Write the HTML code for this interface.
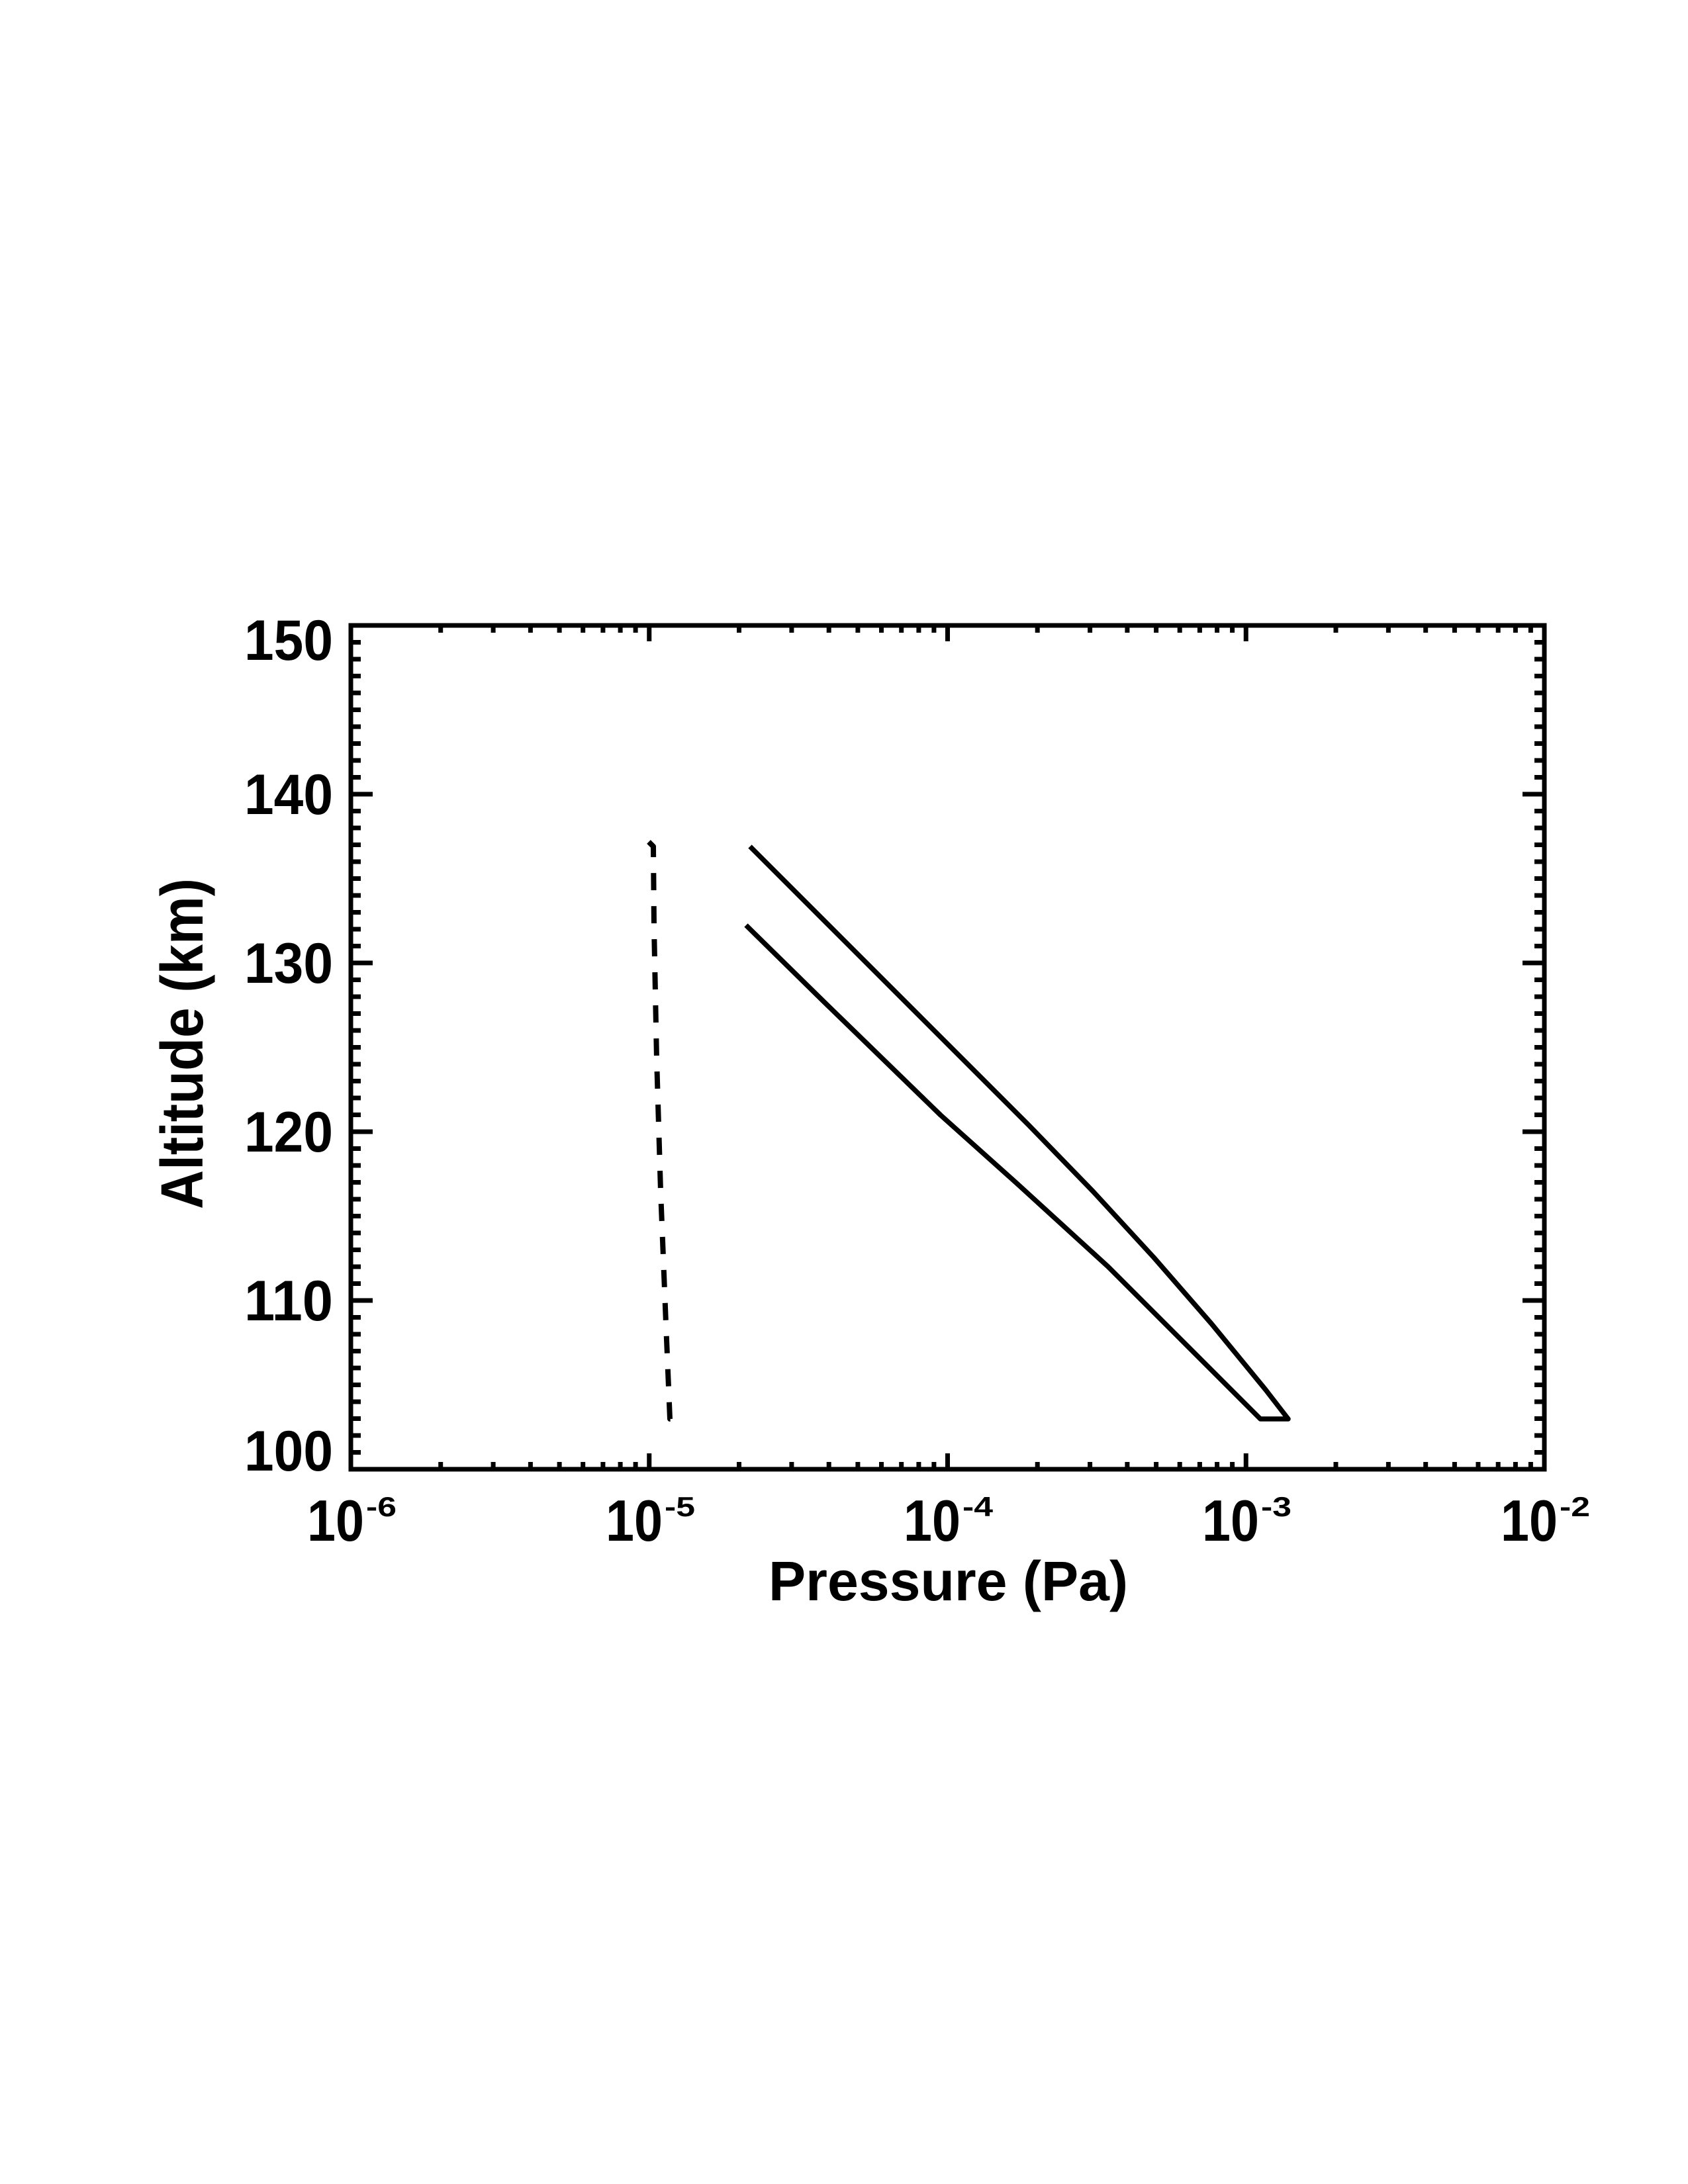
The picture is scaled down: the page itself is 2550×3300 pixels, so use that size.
<!DOCTYPE html>
<html><head><meta charset="utf-8"><style>
html,body{margin:0;padding:0;background:#fff;}
svg{display:block;}
text{font-family:"Liberation Sans",Arial,sans-serif;font-weight:bold;fill:#000;}
</style></head><body>
<svg width="2550" height="3300" viewBox="0 0 2550 3300" xmlns="http://www.w3.org/2000/svg">
<defs>
<pattern id="yt" patternUnits="userSpaceOnUse" x="0" y="941.5" width="40" height="25.5">
<rect x="0" y="0" width="40" height="7" fill="#000"/>
</pattern>
</defs>
<rect width="2550" height="3300" fill="#fff"/>
<rect x="530" y="941.5" width="15" height="1282" fill="url(#yt)"/>
<rect x="2318" y="941.5" width="15" height="1282" fill="url(#yt)"/>
<g stroke="#000" stroke-width="7" fill="none">
<path d="M530 1200h33M530 1455h33M530 1710h33M530 1965h33M2333 1200h-33M2333 1455h-33M2333 1710h-33M2333 1965h-33"/>
<path d="M665.7 2220v-11M745.1 2220v-11M801.4 2220v-11M845.1 2220v-11M880.7 2220v-11M910.9 2220v-11M937.1 2220v-11M960.1 2220v-11
M1116.5 2220v-11M1195.9 2220v-11M1252.2 2220v-11M1295.9 2220v-11M1331.5 2220v-11M1361.7 2220v-11M1387.9 2220v-11M1410.9 2220v-11
M1567.2 2220v-11M1646.6 2220v-11M1702.9 2220v-11M1746.6 2220v-11M1782.2 2220v-11M1812.4 2220v-11M1838.6 2220v-11M1861.6 2220v-11
M2018 2220v-11M2097.4 2220v-11M2153.7 2220v-11M2197.4 2220v-11M2233 2220v-11M2263.2 2220v-11M2289.4 2220v-11M2312.4 2220v-11
M980.75 2220v-24M1431.5 2220v-24M1882.25 2220v-24"/>
<path d="M665.7 945v11M745.1 945v11M801.4 945v11M845.1 945v11M880.7 945v11M910.9 945v11M937.1 945v11M960.1 945v11
M1116.5 945v11M1195.9 945v11M1252.2 945v11M1295.9 945v11M1331.5 945v11M1361.7 945v11M1387.9 945v11M1410.9 945v11
M1567.2 945v11M1646.6 945v11M1702.9 945v11M1746.6 945v11M1782.2 945v11M1812.4 945v11M1838.6 945v11M1861.6 945v11
M2018 945v11M2097.4 945v11M2153.7 945v11M2197.4 945v11M2233 945v11M2263.2 945v11M2289.4 945v11M2312.4 945v11
M980.75 945v24M1431.5 945v24M1882.25 945v24"/>
</g>
<rect x="530" y="945" width="1803" height="1275" fill="none" stroke="#000" stroke-width="7"/>
<g font-size="86">
<text x="503" y="997" text-anchor="end" textLength="134" lengthAdjust="spacingAndGlyphs">150</text>
<text x="503" y="1230" text-anchor="end" textLength="134" lengthAdjust="spacingAndGlyphs">140</text>
<text x="503" y="1485" text-anchor="end" textLength="134" lengthAdjust="spacingAndGlyphs">130</text>
<text x="503" y="1740" text-anchor="end" textLength="134" lengthAdjust="spacingAndGlyphs">120</text>
<text x="503" y="1995" text-anchor="end" textLength="134" lengthAdjust="spacingAndGlyphs">110</text>
<text x="503" y="2222" text-anchor="end" textLength="134" lengthAdjust="spacingAndGlyphs">100</text>
</g>
<g>
<text x="464" y="2328" font-size="88" textLength="86" lengthAdjust="spacingAndGlyphs">10</text><text x="553" y="2291" font-size="42" textLength="46" lengthAdjust="spacingAndGlyphs">-6</text>
<text x="915" y="2328" font-size="88" textLength="86" lengthAdjust="spacingAndGlyphs">10</text><text x="1004" y="2291" font-size="42" textLength="46" lengthAdjust="spacingAndGlyphs">-5</text>
<text x="1365" y="2328" font-size="88" textLength="86" lengthAdjust="spacingAndGlyphs">10</text><text x="1454" y="2291" font-size="42" textLength="46" lengthAdjust="spacingAndGlyphs">-4</text>
<text x="1816" y="2328" font-size="88" textLength="86" lengthAdjust="spacingAndGlyphs">10</text><text x="1905" y="2291" font-size="42" textLength="46" lengthAdjust="spacingAndGlyphs">-3</text>
<text x="2267" y="2328" font-size="88" textLength="86" lengthAdjust="spacingAndGlyphs">10</text><text x="2356" y="2291" font-size="42" textLength="46" lengthAdjust="spacingAndGlyphs">-2</text>
</g>
<text x="1161" y="2418" font-size="84" textLength="543" lengthAdjust="spacingAndGlyphs">Pressure (Pa)</text>
<text transform="translate(306,1827) rotate(-90)" font-size="90" textLength="500" lengthAdjust="spacingAndGlyphs">Altitude (km)</text>
<g fill="none" stroke="#000" stroke-width="7.5" stroke-linejoin="round">
<polyline points="1133,1279 1554,1700 1651,1800 1743,1900 1830,2000 1912,2100 1946,2144 1904,2144 1818,2058 1674,1914 1536,1788 1421,1685 1244,1513 1127,1398"/>
<polyline stroke-dasharray="26,24" stroke-width="8" points="980,1272 987,1279 988,1400 992,1600 998,1800 1006,2000 1012,2144 1020,2144"/>
</g>
</svg>
</body></html>
